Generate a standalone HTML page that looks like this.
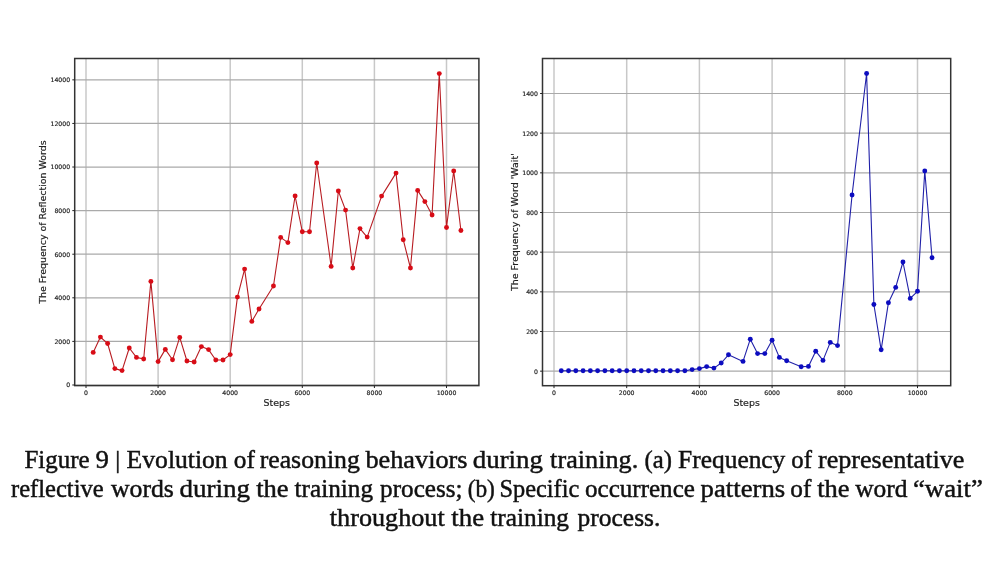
<!DOCTYPE html>
<html><head><meta charset="utf-8"><title>Figure 9</title>
<style>
html,body{margin:0;padding:0;background:#fff;}
body{width:992px;height:570px;overflow:hidden;}
svg{display:block;}
svg text{font-family:"DejaVu Sans","Liberation Sans",sans-serif;fill:#222;stroke:#222;stroke-width:0.18px;}
svg text.cap{font-family:"Liberation Serif","DejaVu Serif",serif;font-size:24.5px;fill:#111;stroke:#111;stroke-width:0.45px;}
</style></head><body>
<svg width="992" height="570" viewBox="0 0 992 570">
<rect width="992" height="570" fill="#fff"/>
<line x1="86.00" y1="58.5" x2="86.00" y2="385.6" stroke="#c8c8c8" stroke-width="1.5"/>
<line x1="158.10" y1="58.5" x2="158.10" y2="385.6" stroke="#c8c8c8" stroke-width="1.5"/>
<line x1="230.20" y1="58.5" x2="230.20" y2="385.6" stroke="#c8c8c8" stroke-width="1.5"/>
<line x1="302.30" y1="58.5" x2="302.30" y2="385.6" stroke="#c8c8c8" stroke-width="1.5"/>
<line x1="374.40" y1="58.5" x2="374.40" y2="385.6" stroke="#c8c8c8" stroke-width="1.5"/>
<line x1="446.50" y1="58.5" x2="446.50" y2="385.6" stroke="#c8c8c8" stroke-width="1.5"/>
<line x1="74.7" y1="384.99" x2="478.9" y2="384.99" stroke="#aaaaaa" stroke-width="1.2"/>
<line x1="74.7" y1="341.40" x2="478.9" y2="341.40" stroke="#aaaaaa" stroke-width="1.2"/>
<line x1="74.7" y1="297.81" x2="478.9" y2="297.81" stroke="#aaaaaa" stroke-width="1.2"/>
<line x1="74.7" y1="254.21" x2="478.9" y2="254.21" stroke="#aaaaaa" stroke-width="1.2"/>
<line x1="74.7" y1="210.62" x2="478.9" y2="210.62" stroke="#aaaaaa" stroke-width="1.2"/>
<line x1="74.7" y1="167.03" x2="478.9" y2="167.03" stroke="#aaaaaa" stroke-width="1.2"/>
<line x1="74.7" y1="123.44" x2="478.9" y2="123.44" stroke="#aaaaaa" stroke-width="1.2"/>
<line x1="74.7" y1="79.85" x2="478.9" y2="79.85" stroke="#aaaaaa" stroke-width="1.2"/>
<polyline points="93.21,352.40 100.42,337.10 107.63,343.50 114.84,368.60 122.05,370.60 129.26,348.00 136.47,357.40 143.68,359.00 150.89,281.40 158.10,361.60 165.31,349.40 172.52,359.80 179.73,337.40 186.94,361.00 194.15,362.00 201.36,346.60 208.57,349.60 215.78,360.00 222.99,360.00 230.20,354.60 237.41,297.10 244.62,269.10 251.83,321.40 259.04,309.00 273.46,286.00 280.67,237.40 287.88,242.60 295.09,196.00 302.30,231.70 309.51,231.70 316.72,163.00 331.14,266.40 338.35,191.00 345.56,210.10 352.77,268.00 359.98,228.60 367.19,237.10 381.61,196.10 396.03,173.10 403.24,239.70 410.45,268.00 417.66,190.40 424.87,201.60 432.08,215.00 439.29,73.60 446.50,227.50 453.71,171.00 460.92,230.50" fill="none" stroke="#b81c22" stroke-width="1.1" stroke-linejoin="round"/>
<circle cx="93.21" cy="352.40" r="2.45" fill="#d80c16"/>
<circle cx="100.42" cy="337.10" r="2.45" fill="#d80c16"/>
<circle cx="107.63" cy="343.50" r="2.45" fill="#d80c16"/>
<circle cx="114.84" cy="368.60" r="2.45" fill="#d80c16"/>
<circle cx="122.05" cy="370.60" r="2.45" fill="#d80c16"/>
<circle cx="129.26" cy="348.00" r="2.45" fill="#d80c16"/>
<circle cx="136.47" cy="357.40" r="2.45" fill="#d80c16"/>
<circle cx="143.68" cy="359.00" r="2.45" fill="#d80c16"/>
<circle cx="150.89" cy="281.40" r="2.45" fill="#d80c16"/>
<circle cx="158.10" cy="361.60" r="2.45" fill="#d80c16"/>
<circle cx="165.31" cy="349.40" r="2.45" fill="#d80c16"/>
<circle cx="172.52" cy="359.80" r="2.45" fill="#d80c16"/>
<circle cx="179.73" cy="337.40" r="2.45" fill="#d80c16"/>
<circle cx="186.94" cy="361.00" r="2.45" fill="#d80c16"/>
<circle cx="194.15" cy="362.00" r="2.45" fill="#d80c16"/>
<circle cx="201.36" cy="346.60" r="2.45" fill="#d80c16"/>
<circle cx="208.57" cy="349.60" r="2.45" fill="#d80c16"/>
<circle cx="215.78" cy="360.00" r="2.45" fill="#d80c16"/>
<circle cx="222.99" cy="360.00" r="2.45" fill="#d80c16"/>
<circle cx="230.20" cy="354.60" r="2.45" fill="#d80c16"/>
<circle cx="237.41" cy="297.10" r="2.45" fill="#d80c16"/>
<circle cx="244.62" cy="269.10" r="2.45" fill="#d80c16"/>
<circle cx="251.83" cy="321.40" r="2.45" fill="#d80c16"/>
<circle cx="259.04" cy="309.00" r="2.45" fill="#d80c16"/>
<circle cx="273.46" cy="286.00" r="2.45" fill="#d80c16"/>
<circle cx="280.67" cy="237.40" r="2.45" fill="#d80c16"/>
<circle cx="287.88" cy="242.60" r="2.45" fill="#d80c16"/>
<circle cx="295.09" cy="196.00" r="2.45" fill="#d80c16"/>
<circle cx="302.30" cy="231.70" r="2.45" fill="#d80c16"/>
<circle cx="309.51" cy="231.70" r="2.45" fill="#d80c16"/>
<circle cx="316.72" cy="163.00" r="2.45" fill="#d80c16"/>
<circle cx="331.14" cy="266.40" r="2.45" fill="#d80c16"/>
<circle cx="338.35" cy="191.00" r="2.45" fill="#d80c16"/>
<circle cx="345.56" cy="210.10" r="2.45" fill="#d80c16"/>
<circle cx="352.77" cy="268.00" r="2.45" fill="#d80c16"/>
<circle cx="359.98" cy="228.60" r="2.45" fill="#d80c16"/>
<circle cx="367.19" cy="237.10" r="2.45" fill="#d80c16"/>
<circle cx="381.61" cy="196.10" r="2.45" fill="#d80c16"/>
<circle cx="396.03" cy="173.10" r="2.45" fill="#d80c16"/>
<circle cx="403.24" cy="239.70" r="2.45" fill="#d80c16"/>
<circle cx="410.45" cy="268.00" r="2.45" fill="#d80c16"/>
<circle cx="417.66" cy="190.40" r="2.45" fill="#d80c16"/>
<circle cx="424.87" cy="201.60" r="2.45" fill="#d80c16"/>
<circle cx="432.08" cy="215.00" r="2.45" fill="#d80c16"/>
<circle cx="439.29" cy="73.60" r="2.45" fill="#d80c16"/>
<circle cx="446.50" cy="227.50" r="2.45" fill="#d80c16"/>
<circle cx="453.71" cy="171.00" r="2.45" fill="#d80c16"/>
<circle cx="460.92" cy="230.50" r="2.45" fill="#d80c16"/>
<rect x="74.7" y="58.5" width="404.20" height="327.10" fill="none" stroke="#333" stroke-width="1.5"/>
<line x1="86.00" y1="385.6" x2="86.00" y2="388.0" stroke="#222" stroke-width="1"/>
<text x="86.00" y="394.80" font-size="6.2" text-anchor="middle">0</text>
<line x1="158.10" y1="385.6" x2="158.10" y2="388.0" stroke="#222" stroke-width="1"/>
<text x="158.10" y="394.80" font-size="6.2" text-anchor="middle">2000</text>
<line x1="230.20" y1="385.6" x2="230.20" y2="388.0" stroke="#222" stroke-width="1"/>
<text x="230.20" y="394.80" font-size="6.2" text-anchor="middle">4000</text>
<line x1="302.30" y1="385.6" x2="302.30" y2="388.0" stroke="#222" stroke-width="1"/>
<text x="302.30" y="394.80" font-size="6.2" text-anchor="middle">6000</text>
<line x1="374.40" y1="385.6" x2="374.40" y2="388.0" stroke="#222" stroke-width="1"/>
<text x="374.40" y="394.80" font-size="6.2" text-anchor="middle">8000</text>
<line x1="446.50" y1="385.6" x2="446.50" y2="388.0" stroke="#222" stroke-width="1"/>
<text x="446.50" y="394.80" font-size="6.2" text-anchor="middle">10000</text>
<line x1="72.3" y1="384.99" x2="74.7" y2="384.99" stroke="#222" stroke-width="1"/>
<text x="70.20" y="387.34" font-size="6.2" text-anchor="end">0</text>
<line x1="72.3" y1="341.40" x2="74.7" y2="341.40" stroke="#222" stroke-width="1"/>
<text x="70.20" y="343.75" font-size="6.2" text-anchor="end">2000</text>
<line x1="72.3" y1="297.81" x2="74.7" y2="297.81" stroke="#222" stroke-width="1"/>
<text x="70.20" y="300.16" font-size="6.2" text-anchor="end">4000</text>
<line x1="72.3" y1="254.21" x2="74.7" y2="254.21" stroke="#222" stroke-width="1"/>
<text x="70.20" y="256.56" font-size="6.2" text-anchor="end">6000</text>
<line x1="72.3" y1="210.62" x2="74.7" y2="210.62" stroke="#222" stroke-width="1"/>
<text x="70.20" y="212.97" font-size="6.2" text-anchor="end">8000</text>
<line x1="72.3" y1="167.03" x2="74.7" y2="167.03" stroke="#222" stroke-width="1"/>
<text x="70.20" y="169.38" font-size="6.2" text-anchor="end">10000</text>
<line x1="72.3" y1="123.44" x2="74.7" y2="123.44" stroke="#222" stroke-width="1"/>
<text x="70.20" y="125.79" font-size="6.2" text-anchor="end">12000</text>
<line x1="72.3" y1="79.85" x2="74.7" y2="79.85" stroke="#222" stroke-width="1"/>
<text x="70.20" y="82.20" font-size="6.2" text-anchor="end">14000</text>
<text x="276.80" y="406" font-size="9.45" text-anchor="middle">Steps</text>
<text transform="translate(45.9,222.05) rotate(-90)" x="0" y="0" font-size="9.45" text-anchor="middle">The Frequency of Reflection Words</text>
<line x1="554.00" y1="58.5" x2="554.00" y2="385.7" stroke="#c8c8c8" stroke-width="1.5"/>
<line x1="626.70" y1="58.5" x2="626.70" y2="385.7" stroke="#c8c8c8" stroke-width="1.5"/>
<line x1="699.40" y1="58.5" x2="699.40" y2="385.7" stroke="#c8c8c8" stroke-width="1.5"/>
<line x1="772.10" y1="58.5" x2="772.10" y2="385.7" stroke="#c8c8c8" stroke-width="1.5"/>
<line x1="844.80" y1="58.5" x2="844.80" y2="385.7" stroke="#c8c8c8" stroke-width="1.5"/>
<line x1="917.50" y1="58.5" x2="917.50" y2="385.7" stroke="#c8c8c8" stroke-width="1.5"/>
<line x1="542.5" y1="371.17" x2="950.7" y2="371.17" stroke="#aaaaaa" stroke-width="1.2"/>
<line x1="542.5" y1="331.50" x2="950.7" y2="331.50" stroke="#aaaaaa" stroke-width="1.2"/>
<line x1="542.5" y1="291.84" x2="950.7" y2="291.84" stroke="#aaaaaa" stroke-width="1.2"/>
<line x1="542.5" y1="252.17" x2="950.7" y2="252.17" stroke="#aaaaaa" stroke-width="1.2"/>
<line x1="542.5" y1="212.50" x2="950.7" y2="212.50" stroke="#aaaaaa" stroke-width="1.2"/>
<line x1="542.5" y1="172.84" x2="950.7" y2="172.84" stroke="#aaaaaa" stroke-width="1.2"/>
<line x1="542.5" y1="133.17" x2="950.7" y2="133.17" stroke="#aaaaaa" stroke-width="1.2"/>
<line x1="542.5" y1="93.50" x2="950.7" y2="93.50" stroke="#aaaaaa" stroke-width="1.2"/>
<polyline points="561.27,370.80 568.54,370.80 575.81,370.80 583.08,370.80 590.35,370.80 597.62,370.80 604.89,370.80 612.16,370.80 619.43,370.80 626.70,370.80 633.97,370.80 641.24,370.80 648.51,370.80 655.78,370.80 663.05,370.80 670.32,370.80 677.59,370.80 684.86,370.80 692.13,369.60 699.40,368.60 706.67,366.60 713.94,368.10 721.21,363.00 728.48,354.80 743.02,361.40 750.29,339.20 757.56,353.60 764.83,353.60 772.10,340.20 779.37,357.40 786.64,360.80 801.18,366.80 808.45,366.40 815.72,351.20 822.99,360.40 830.26,342.40 837.53,345.60 852.07,195.00 866.61,73.50 873.88,304.50 881.15,349.80 888.42,302.70 895.69,287.40 902.96,262.00 910.23,298.40 917.50,291.30 924.77,171.00 932.04,257.80" fill="none" stroke="#2020a8" stroke-width="1.1" stroke-linejoin="round"/>
<circle cx="561.27" cy="370.80" r="2.45" fill="#0c0cc0"/>
<circle cx="568.54" cy="370.80" r="2.45" fill="#0c0cc0"/>
<circle cx="575.81" cy="370.80" r="2.45" fill="#0c0cc0"/>
<circle cx="583.08" cy="370.80" r="2.45" fill="#0c0cc0"/>
<circle cx="590.35" cy="370.80" r="2.45" fill="#0c0cc0"/>
<circle cx="597.62" cy="370.80" r="2.45" fill="#0c0cc0"/>
<circle cx="604.89" cy="370.80" r="2.45" fill="#0c0cc0"/>
<circle cx="612.16" cy="370.80" r="2.45" fill="#0c0cc0"/>
<circle cx="619.43" cy="370.80" r="2.45" fill="#0c0cc0"/>
<circle cx="626.70" cy="370.80" r="2.45" fill="#0c0cc0"/>
<circle cx="633.97" cy="370.80" r="2.45" fill="#0c0cc0"/>
<circle cx="641.24" cy="370.80" r="2.45" fill="#0c0cc0"/>
<circle cx="648.51" cy="370.80" r="2.45" fill="#0c0cc0"/>
<circle cx="655.78" cy="370.80" r="2.45" fill="#0c0cc0"/>
<circle cx="663.05" cy="370.80" r="2.45" fill="#0c0cc0"/>
<circle cx="670.32" cy="370.80" r="2.45" fill="#0c0cc0"/>
<circle cx="677.59" cy="370.80" r="2.45" fill="#0c0cc0"/>
<circle cx="684.86" cy="370.80" r="2.45" fill="#0c0cc0"/>
<circle cx="692.13" cy="369.60" r="2.45" fill="#0c0cc0"/>
<circle cx="699.40" cy="368.60" r="2.45" fill="#0c0cc0"/>
<circle cx="706.67" cy="366.60" r="2.45" fill="#0c0cc0"/>
<circle cx="713.94" cy="368.10" r="2.45" fill="#0c0cc0"/>
<circle cx="721.21" cy="363.00" r="2.45" fill="#0c0cc0"/>
<circle cx="728.48" cy="354.80" r="2.45" fill="#0c0cc0"/>
<circle cx="743.02" cy="361.40" r="2.45" fill="#0c0cc0"/>
<circle cx="750.29" cy="339.20" r="2.45" fill="#0c0cc0"/>
<circle cx="757.56" cy="353.60" r="2.45" fill="#0c0cc0"/>
<circle cx="764.83" cy="353.60" r="2.45" fill="#0c0cc0"/>
<circle cx="772.10" cy="340.20" r="2.45" fill="#0c0cc0"/>
<circle cx="779.37" cy="357.40" r="2.45" fill="#0c0cc0"/>
<circle cx="786.64" cy="360.80" r="2.45" fill="#0c0cc0"/>
<circle cx="801.18" cy="366.80" r="2.45" fill="#0c0cc0"/>
<circle cx="808.45" cy="366.40" r="2.45" fill="#0c0cc0"/>
<circle cx="815.72" cy="351.20" r="2.45" fill="#0c0cc0"/>
<circle cx="822.99" cy="360.40" r="2.45" fill="#0c0cc0"/>
<circle cx="830.26" cy="342.40" r="2.45" fill="#0c0cc0"/>
<circle cx="837.53" cy="345.60" r="2.45" fill="#0c0cc0"/>
<circle cx="852.07" cy="195.00" r="2.45" fill="#0c0cc0"/>
<circle cx="866.61" cy="73.50" r="2.45" fill="#0c0cc0"/>
<circle cx="873.88" cy="304.50" r="2.45" fill="#0c0cc0"/>
<circle cx="881.15" cy="349.80" r="2.45" fill="#0c0cc0"/>
<circle cx="888.42" cy="302.70" r="2.45" fill="#0c0cc0"/>
<circle cx="895.69" cy="287.40" r="2.45" fill="#0c0cc0"/>
<circle cx="902.96" cy="262.00" r="2.45" fill="#0c0cc0"/>
<circle cx="910.23" cy="298.40" r="2.45" fill="#0c0cc0"/>
<circle cx="917.50" cy="291.30" r="2.45" fill="#0c0cc0"/>
<circle cx="924.77" cy="171.00" r="2.45" fill="#0c0cc0"/>
<circle cx="932.04" cy="257.80" r="2.45" fill="#0c0cc0"/>
<rect x="542.5" y="58.5" width="408.20" height="327.20" fill="none" stroke="#333" stroke-width="1.5"/>
<line x1="554.00" y1="385.7" x2="554.00" y2="388.09999999999997" stroke="#222" stroke-width="1"/>
<text x="554.00" y="394.80" font-size="6.2" text-anchor="middle">0</text>
<line x1="626.70" y1="385.7" x2="626.70" y2="388.09999999999997" stroke="#222" stroke-width="1"/>
<text x="626.70" y="394.80" font-size="6.2" text-anchor="middle">2000</text>
<line x1="699.40" y1="385.7" x2="699.40" y2="388.09999999999997" stroke="#222" stroke-width="1"/>
<text x="699.40" y="394.80" font-size="6.2" text-anchor="middle">4000</text>
<line x1="772.10" y1="385.7" x2="772.10" y2="388.09999999999997" stroke="#222" stroke-width="1"/>
<text x="772.10" y="394.80" font-size="6.2" text-anchor="middle">6000</text>
<line x1="844.80" y1="385.7" x2="844.80" y2="388.09999999999997" stroke="#222" stroke-width="1"/>
<text x="844.80" y="394.80" font-size="6.2" text-anchor="middle">8000</text>
<line x1="917.50" y1="385.7" x2="917.50" y2="388.09999999999997" stroke="#222" stroke-width="1"/>
<text x="917.50" y="394.80" font-size="6.2" text-anchor="middle">10000</text>
<line x1="540.1" y1="371.17" x2="542.5" y2="371.17" stroke="#222" stroke-width="1"/>
<text x="538.00" y="373.52" font-size="6.2" text-anchor="end">0</text>
<line x1="540.1" y1="331.50" x2="542.5" y2="331.50" stroke="#222" stroke-width="1"/>
<text x="538.00" y="333.85" font-size="6.2" text-anchor="end">200</text>
<line x1="540.1" y1="291.84" x2="542.5" y2="291.84" stroke="#222" stroke-width="1"/>
<text x="538.00" y="294.19" font-size="6.2" text-anchor="end">400</text>
<line x1="540.1" y1="252.17" x2="542.5" y2="252.17" stroke="#222" stroke-width="1"/>
<text x="538.00" y="254.52" font-size="6.2" text-anchor="end">600</text>
<line x1="540.1" y1="212.50" x2="542.5" y2="212.50" stroke="#222" stroke-width="1"/>
<text x="538.00" y="214.85" font-size="6.2" text-anchor="end">800</text>
<line x1="540.1" y1="172.84" x2="542.5" y2="172.84" stroke="#222" stroke-width="1"/>
<text x="538.00" y="175.19" font-size="6.2" text-anchor="end">1000</text>
<line x1="540.1" y1="133.17" x2="542.5" y2="133.17" stroke="#222" stroke-width="1"/>
<text x="538.00" y="135.52" font-size="6.2" text-anchor="end">1200</text>
<line x1="540.1" y1="93.50" x2="542.5" y2="93.50" stroke="#222" stroke-width="1"/>
<text x="538.00" y="95.85" font-size="6.2" text-anchor="end">1400</text>
<text x="746.60" y="406" font-size="9.45" text-anchor="middle">Steps</text>
<text transform="translate(518.0,222.10) rotate(-90)" x="0" y="0" font-size="9.45" text-anchor="middle">The Frequency of Word &#39;Wait&#39;</text>
<text class="cap" x="24.45" y="467.9" textLength="65.14" lengthAdjust="spacingAndGlyphs">Figure</text>
<text class="cap" x="95.60" y="467.9" textLength="13.37" lengthAdjust="spacingAndGlyphs">9</text>
<text class="cap" x="115.30" y="467.9">|</text>
<text class="cap" x="126.63" y="467.9" textLength="101.03" lengthAdjust="spacingAndGlyphs">Evolution</text>
<text class="cap" x="233.79" y="467.9" textLength="21.06" lengthAdjust="spacingAndGlyphs">of</text>
<text class="cap" x="259.68" y="467.9" textLength="100.17" lengthAdjust="spacingAndGlyphs">reasoning</text>
<text class="cap" x="365.40" y="467.9" textLength="102.16" lengthAdjust="spacingAndGlyphs">behaviors</text>
<text class="cap" x="472.86" y="467.9" textLength="70.00" lengthAdjust="spacingAndGlyphs">during</text>
<text class="cap" x="550.14" y="467.9" textLength="88.07" lengthAdjust="spacingAndGlyphs">training.</text>
<text class="cap" x="644.49" y="467.9" textLength="27.42" lengthAdjust="spacingAndGlyphs">(a)</text>
<text class="cap" x="678.14" y="467.9" textLength="107.21" lengthAdjust="spacingAndGlyphs">Frequency</text>
<text class="cap" x="791.31" y="467.9" textLength="20.64" lengthAdjust="spacingAndGlyphs">of</text>
<text class="cap" x="817.98" y="467.9" textLength="146.38" lengthAdjust="spacingAndGlyphs">representative</text>
<text class="cap" x="11.01" y="496.6" textLength="92.65" lengthAdjust="spacingAndGlyphs">reflective</text>
<text class="cap" x="110.90" y="496.6" textLength="62.99" lengthAdjust="spacingAndGlyphs">words</text>
<text class="cap" x="179.45" y="496.6" textLength="70.61" lengthAdjust="spacingAndGlyphs">during</text>
<text class="cap" x="256.23" y="496.6" textLength="32.40" lengthAdjust="spacingAndGlyphs">the</text>
<text class="cap" x="294.55" y="496.6" textLength="78.46" lengthAdjust="spacingAndGlyphs">training</text>
<text class="cap" x="380.12" y="496.6" textLength="82.41" lengthAdjust="spacingAndGlyphs">process;</text>
<text class="cap" x="467.65" y="496.6" textLength="27.21" lengthAdjust="spacingAndGlyphs">(b)</text>
<text class="cap" x="499.42" y="496.6" textLength="79.83" lengthAdjust="spacingAndGlyphs">Specific</text>
<text class="cap" x="585.10" y="496.6" textLength="109.78" lengthAdjust="spacingAndGlyphs">occurrence</text>
<text class="cap" x="700.60" y="496.6" textLength="84.55" lengthAdjust="spacingAndGlyphs">patterns</text>
<text class="cap" x="790.29" y="496.6" textLength="21.06" lengthAdjust="spacingAndGlyphs">of</text>
<text class="cap" x="817.24" y="496.6" textLength="32.30" lengthAdjust="spacingAndGlyphs">the</text>
<text class="cap" x="855.20" y="496.6" textLength="52.26" lengthAdjust="spacingAndGlyphs">word</text>
<text class="cap" x="913.00" y="496.6" textLength="69.82" lengthAdjust="spacingAndGlyphs">“wait”</text>
<text class="cap" x="329.84" y="525.5" textLength="114.89" lengthAdjust="spacingAndGlyphs">throughout</text>
<text class="cap" x="451.33" y="525.5" textLength="32.72" lengthAdjust="spacingAndGlyphs">the</text>
<text class="cap" x="490.25" y="525.5" textLength="78.77" lengthAdjust="spacingAndGlyphs">training</text>
<text class="cap" x="577.62" y="525.5" textLength="82.71" lengthAdjust="spacingAndGlyphs">process.</text>
</svg>
</body></html>
